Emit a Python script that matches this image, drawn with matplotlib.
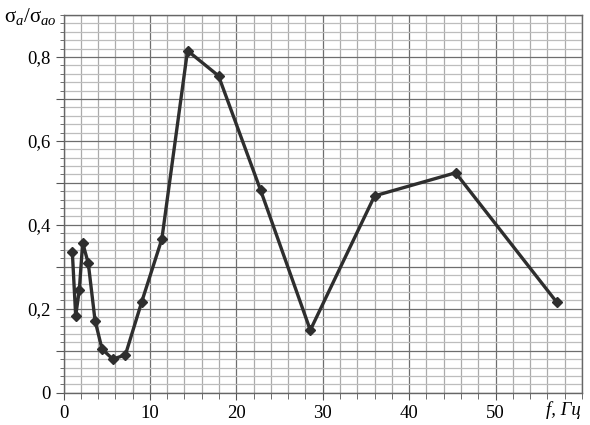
import matplotlib
matplotlib.use("Agg")
import matplotlib.pyplot as plt
from matplotlib.ticker import MultipleLocator, FixedLocator

plt.rcParams['font.family'] = ['Liberation Serif', 'DejaVu Serif']
plt.rcParams['mathtext.fontset'] = 'custom'
plt.rcParams['mathtext.rm'] = 'Liberation Serif'
plt.rcParams['mathtext.it'] = 'Liberation Serif:italic'

freq = [1.02, 1.41, 1.83, 2.22, 2.87, 3.65, 4.46, 5.70, 7.16, 9.06, 11.38,
        14.35, 17.94, 22.8, 28.56, 36.0, 45.37, 57.1]
ratio = [0.336, 0.183, 0.245, 0.357, 0.308, 0.172, 0.104, 0.080, 0.090, 0.217, 0.366,
         0.815, 0.755, 0.483, 0.149, 0.469, 0.524, 0.215]

x_ticks = [0, 10, 20, 30, 40, 50]
x_labels = ['0', '10', '20', '30', '40', '50']
y_ticks = [0, 0.1, 0.2, 0.3, 0.4, 0.5, 0.6, 0.7, 0.8]
y_labels = ['0', '', '0,2', '', '0,4', '', '0,6', '', '0,8']

fig = plt.figure(figsize=(5.9, 4.25), dpi=100)
ax = fig.add_axes([63.5/590, 1-392.7/425, (582-63.5)/590, (392.7-15)/425])
ax.set_xlim(0, 60)
ax.set_ylim(0, 0.9)

# grid
for v in range(0, 61, 2):
    c = '#6e6e6e' if v % 10 == 0 else '#ababab'
    ax.axvline(v, color=c, lw=0.9, zorder=0)
for i in range(0, 46):
    v = i * 0.02
    c = '#6e6e6e' if i % 5 == 0 else '#bdbdbd'
    ax.axhline(v, color=c, lw=0.9, zorder=0)

ax.set_xticks(x_ticks)
ax.set_xticklabels(x_labels, fontsize=13.5)
ax.set_xticks(list(range(0, 61, 2)), minor=True)
ax.set_yticks(y_ticks)
ax.set_yticklabels(y_labels, fontsize=13.5)
ax.set_yticks([i * 0.02 for i in range(46)], minor=True)
ax.tick_params(axis='both', which='both', direction='out', color='#555555')
ax.tick_params(axis='x', which='major', length=5, pad=4)
ax.tick_params(axis='x', which='minor', length=4)
ax.tick_params(axis='y', which='major', length=6, pad=3)
ax.tick_params(axis='y', which='minor', length=3)
for s in ax.spines.values():
    s.set_color('#666666')
    s.set_linewidth(1.0)

ax.plot(freq, ratio, color='#2e2e2e', lw=2.4, marker='D', markersize=5.2,
        markerfacecolor='#2e2e2e', markeredgecolor='#2e2e2e', zorder=3, clip_on=False)

fig.text(4/590, 1-22/425, r'$\mathregular{σ}_{\mathit{a}}/\mathregular{σ}_{\mathit{ao}}$',
         fontsize=15, ha='left', va='baseline')
fig.text(563/590, 1-410/425, 'f, Гц', fontsize=13.5, style='italic', ha='center', va='center')

fig.savefig('out.png', dpi=100)
